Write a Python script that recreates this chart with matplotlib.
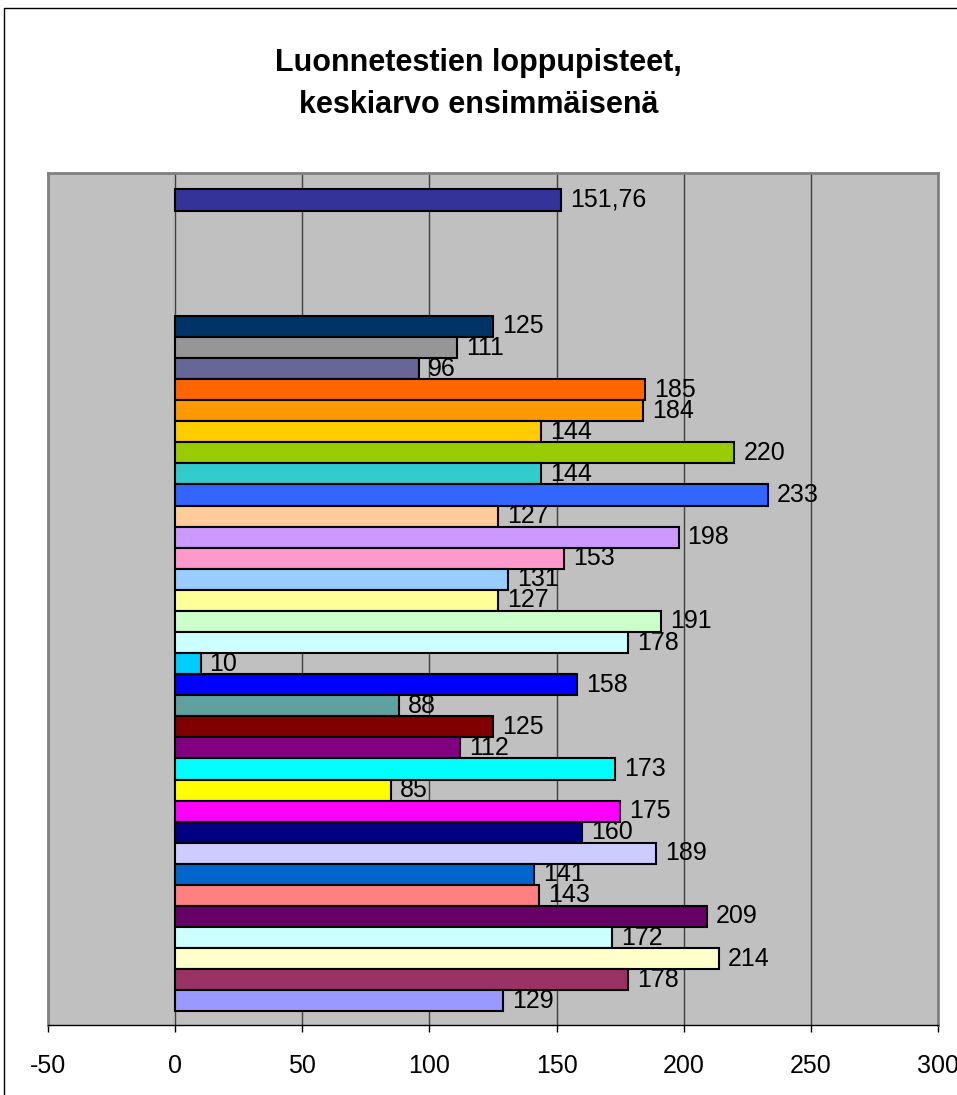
import matplotlib
matplotlib.use('Agg')
import matplotlib.pyplot as plt
from matplotlib.patches import Rectangle

plt.rcParams['font.family'] = ['Liberation Sans', 'DejaVu Sans']

# Average first, then the individual dogs
avg_value = 151.76
avg_color = '#333399'

scores = [125, 111, 96, 185, 184, 144, 220, 144, 233, 127, 198, 153, 131, 127,
          191, 178, 10, 158, 88, 125, 112, 173, 85, 175, 160, 189, 141, 143,
          209, 172, 214, 178, 129]
colors = ['#003366', '#969696', '#666699', '#FF6600', '#FF9900', '#FFCC00',
          '#99CC00', '#33CCCC', '#3366FF', '#FFCC99', '#CC99FF', '#FF99CC',
          '#99CCFF', '#FFFF99', '#CCFFCC', '#CCFFFF', '#00CCFF', '#0000FF',
          '#60A0A0', '#800000', '#800080', '#00FFFF', '#FFFF00', '#FF00FF',
          '#000080', '#CCCCFF', '#0066CC', '#FF8080', '#660066', '#CCFFFF',
          '#FFFFCC', '#993366', '#9999FF']

title = 'Luonnetestien loppupisteet,\nkeskiarvo ensimmäisenä'
xticks = [-50, 0, 50, 100, 150, 200, 250, 300]


def fmt(v):
    if float(v).is_integer():
        return str(int(v))
    return ('%.2f' % v).replace('.', ',')


fig = plt.figure(figsize=(9.57, 10.95), dpi=100)
ax = fig.add_axes([0.0502, 0.0639, 0.9298, 0.7781])

# outer chart frame
fig.patches.append(Rectangle((4 / 957, -0.05), 1.2, 1 - 8 / 1095 + 0.05,
                             transform=fig.transFigure, fill=False,
                             edgecolor='black', linewidth=1.0))

positions = [0] + list(range(6, 6 + len(scores)))
values = [avg_value] + scores
fills = [avg_color] + colors

ax.set_facecolor('#C0C0C0')
ax.barh(positions, values, height=1.0, color=fills, edgecolor='black',
        linewidth=1.5, zorder=3)

for p, v in zip(positions, values):
    ax.annotate(fmt(v), xy=(v, p), xytext=(6.5, 0), textcoords='offset points',
                ha='left', va='center', fontsize=18, zorder=4)

ax.set_xlim(-50, 300)
ax.set_ylim(39.15, -1.28)
ax.set_xticks(xticks)
ax.set_xticklabels([str(t) for t in xticks], fontsize=18)
ax.set_yticks([])
ax.tick_params(axis='x', direction='out', length=5, width=1, pad=16,
               colors='black')
ax.grid(axis='x', color='#404040', linewidth=1, zorder=1)

for side in ['left', 'top', 'right']:
    ax.spines[side].set_color('#808080')
    ax.spines[side].set_linewidth(2)
ax.spines['bottom'].set_color('black')
ax.spines['bottom'].set_linewidth(1)

fig.text(0.5, 1 - 84 / 1095, title, ha='center', va='center',
         fontsize=22, fontweight='bold', linespacing=1.5)

fig.savefig('out.png', dpi=100)
plt.close()
